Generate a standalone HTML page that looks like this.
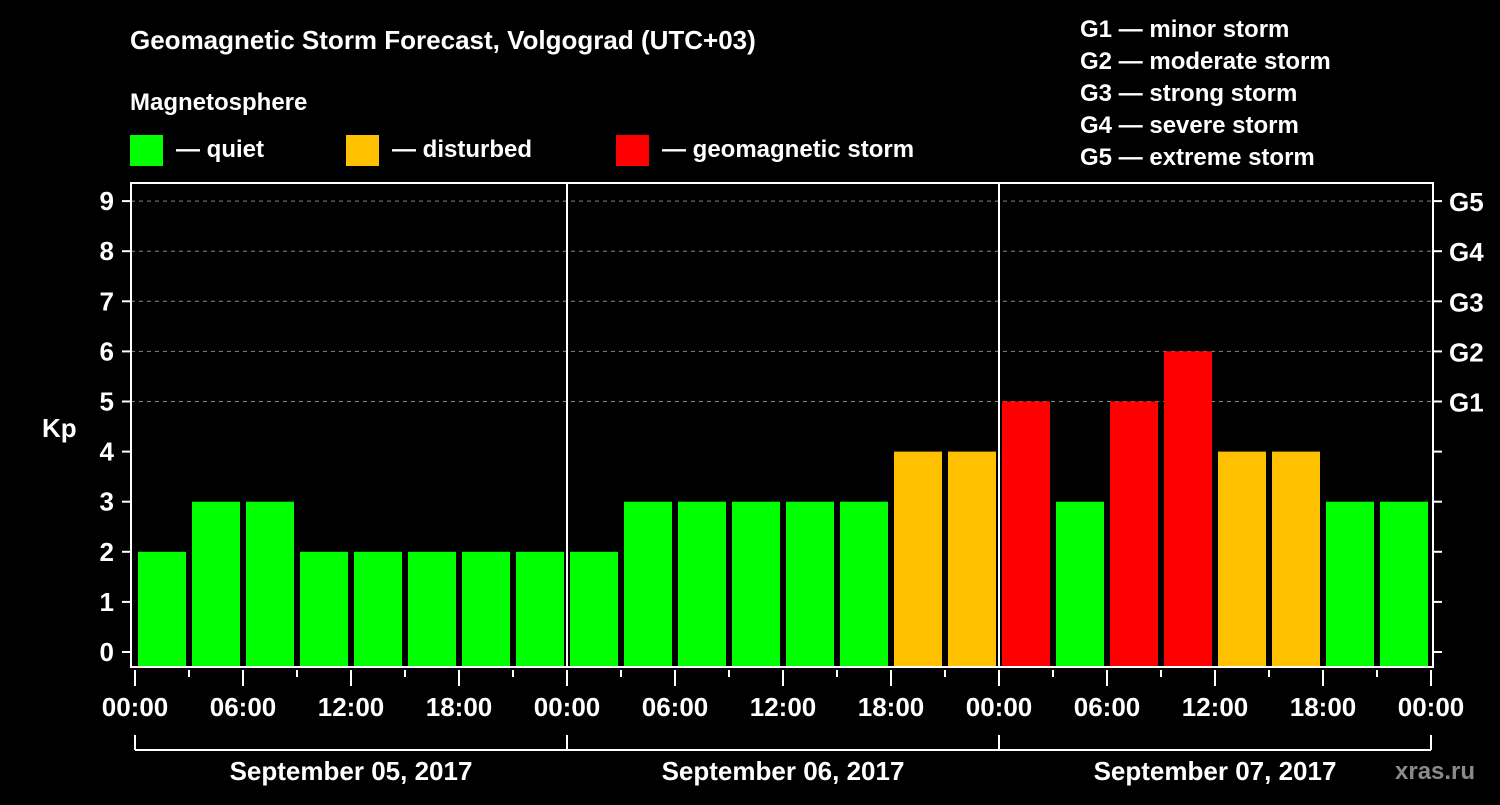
<!DOCTYPE html>
<html><head><meta charset="utf-8"><style>
body{margin:0;background:#000;}
svg text{font-family:"Liberation Sans",Arial,sans-serif;font-weight:bold;fill:#fff;}
</style></head><body>
<svg width="1500" height="800" viewBox="0 0 1500 800">
<rect width="1500" height="800" fill="#000"/>
<text x="130" y="49" font-size="26">Geomagnetic Storm Forecast, Volgograd (UTC+03)</text>
<text x="130" y="110" font-size="24">Magnetosphere</text>
<g><rect x="130" y="135" width="33" height="31" fill="#00ff00"/><text x="176" y="157" font-size="24">— quiet</text></g>
<g><rect x="346" y="135" width="33" height="31" fill="#ffc000"/><text x="392" y="157" font-size="24">— disturbed</text></g>
<g><rect x="616" y="135" width="33" height="31" fill="#ff0000"/><text x="662" y="157" font-size="24">— geomagnetic storm</text></g>
<g font-size="24">
<text x="1080" y="37">G1 — minor storm</text>
<text x="1080" y="69">G2 — moderate storm</text>
<text x="1080" y="101">G3 — strong storm</text>
<text x="1080" y="133">G4 — severe storm</text>
<text x="1080" y="165">G5 — extreme storm</text>
</g>
<g id="plot"></g>
<text x="42" y="437" font-size="26">Kp</text>
<text x="1395" y="779" font-size="24" fill="#888" style="fill:#8a8a8a">xras.ru</text>
</svg>
<script>
const days=["September 05, 2017","September 06, 2017","September 07, 2017"];
const kpValues=[2,3,3,2,2,2,2,2, 2,3,3,3,3,3,4,4, 5,3,5,6,4,4,3,3];
const yTicks=[0,1,2,3,4,5,6,7,8,9];
const gLabels=["G1","G2","G3","G4","G5"];
const xTickLabels=["00:00","06:00","12:00","18:00"];
const NS="http://www.w3.org/2000/svg";
const g=document.getElementById('plot');
const X0=135,DAY=432,Y0=652,UNIT=50.1,TOP=183,BOT=667,LEFT=131,RIGHT=1433;
const x=h=>X0+h*DAY/24;
const y=v=>Y0-v*UNIT;
function el(t,a,p){const e=document.createElementNS(NS,t);for(const k in a)e.setAttribute(k,a[k]);(p||g).appendChild(e);return e;}
function txt(s,a){const e=el('text',a);e.textContent=s;return e;}
// grid
yTicks.forEach(v=>{
 if(v>=5){const l=el('line',{x1:LEFT,x2:RIGHT,y1:y(v),y2:y(v),stroke:'#888','stroke-dasharray':'4,4','stroke-width':1});
 
 }
 const tl=el('line',{x1:122,x2:LEFT,y1:y(v),y2:y(v),stroke:'#fff','stroke-width':2});
 
 
 const tr=el('line',{x1:RIGHT,x2:1442,y1:y(v),y2:y(v),stroke:'#fff','stroke-width':2});
 
 
 const t=txt(String(v),{x:114,y:y(v)+9,'font-size':26,'text-anchor':'end'});
 
 
});
gLabels.forEach((s,i)=>{
 const t=txt(s,{x:1449,y:y(5+i)+10,'font-size':26});
 
 
});
// bars
kpValues.forEach((v,i)=>{
 const c=v>=5?'#ff0000':(v>=4?'#ffc000':'#00ff00');
 const r=el('rect',{x:x(i*3)+3,y:y(v),width:48,height:BOT-y(v),fill:c});
 
 
});
// frame
const f=el('rect',{x:LEFT,y:TOP,width:RIGHT-LEFT,height:BOT-TOP,fill:'none',stroke:'#fff','stroke-width':2});


for(let d=1;d<days.length;d++){
 const l=el('line',{x1:x(d*24),x2:x(d*24),y1:TOP,y2:BOT,stroke:'#fff','stroke-width':2});
 
 
}
// x ticks
for(let h=0;h<=72;h+=3){
 const major=h%6===0;
 const l=el('line',{x1:x(h),x2:x(h),y1:670,y2:major?686:677,stroke:'#fff','stroke-width':2});
 
 
 if(major){
  const t=txt(xTickLabels[(h/6)%4],{x:x(h),y:716,'font-size':26,'text-anchor':'middle'});
  
  
 }
}
// day bracket
const b=el('line',{x1:x(0),x2:x(72),y1:750,y2:750,stroke:'#fff','stroke-width':2});


for(let d=0;d<=days.length;d++){
 const l=el('line',{x1:x(d*24),x2:x(d*24),y1:735,y2:750,stroke:'#fff','stroke-width':2});
 
 
}
days.forEach((s,d)=>{
 const t=txt(s,{x:x(d*24+12),y:780,'font-size':26,'text-anchor':'middle'});
 
 
});
</script>
</body></html>
